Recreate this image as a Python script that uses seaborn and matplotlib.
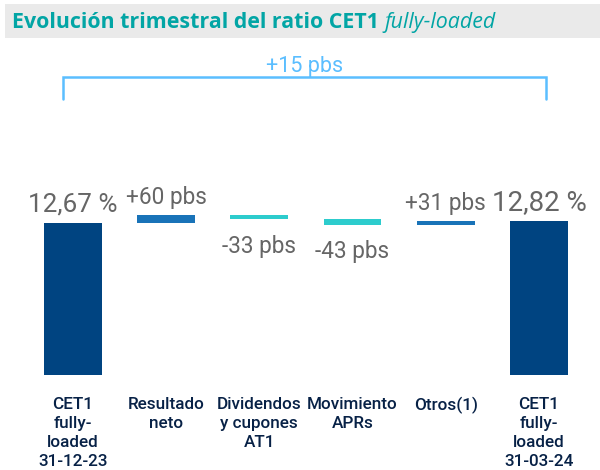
import numpy as np
import matplotlib
matplotlib.use("Agg")
import matplotlib.pyplot as plt
import seaborn as sns
from matplotlib.patches import Rectangle

# Data
categories = ["CET1\nfully-\nloaded\n31-12-23", "Resultado\nneto", "Dividendos\ny cupones\nAT1",
              "Movimiento\nAPRs", "Otros(1)", "CET1\nfully-\nloaded\n31-03-24"]
start_val = 12.67
deltas = [0.60, -0.33, -0.43, 0.31]
end_val = 12.82
value_labels = ["12,67 %", "+60 pbs", "-33 pbs", "-43 pbs", "+31 pbs", "12,82 %"]
total_label = "+15 pbs"

NAVY = "#004481"
POS = "#1973B8"
NEG = "#2DCCCD"
GREY = "#666666"
TEXT_NAVY = "#072146"
LIGHT = "#5BBEFF"
TEAL = "#02A5A5"

sns.set_theme(style="white")
plt.rcParams["font.family"] = ["Roboto", "DejaVu Sans"]

# waterfall low/high
levels = np.concatenate([[start_val], start_val + np.cumsum(deltas)])
lows = [0.0]
highs = [start_val]
colors = [NAVY]
for i, d in enumerate(deltas):
    lows.append(min(levels[i], levels[i + 1]))
    highs.append(max(levels[i], levels[i + 1]))
    colors.append(POS if d > 0 else NEG)
lows.append(0.0)
highs.append(end_val)
colors.append(NAVY)
lows = np.array(lows)
highs = np.array(highs)

fig = plt.figure(figsize=(6, 4.7), dpi=100)
ax = fig.add_axes([0.0435, 0.2021, 0.9325, 0.7128])

x_idx = list(range(len(categories)))
sns.barplot(x=x_idx, y=highs - lows, bottom=lows, color=NAVY, width=0.62,
            errorbar=None, ax=ax, linewidth=0)
for patch, c in zip(ax.patches, colors):
    patch.set_facecolor(c)

ax.set_xlim(-0.5, 5.5)
ax.set_ylim(0, 27.87)
sns.despine(ax=ax, left=True, bottom=True)
ax.set_yticks([])
ax.set_ylabel("")
ax.set_xticks(x_idx)
ax.set_xticklabels(categories, fontsize=12.3, color=TEXT_NAVY, fontweight="medium",
                   linespacing=1.33)
ax.tick_params(axis="x", length=0, pad=16)

# value labels
for i, lab in enumerate(value_labels):
    size = 16.3
    if i == 0:
        size = 18.8
    elif i == 5:
        size = 20
    if i in (2, 3):
        ax.annotate(lab, (i, lows[i]), xytext=(0, -24), textcoords="offset points",
                    ha="center", va="baseline", fontsize=size, color=GREY)
    else:
        ax.annotate(lab, (i, highs[i]), xytext=(0, 8), textcoords="offset points",
                    ha="center", va="baseline", fontsize=size, color=GREY)

# bracket for total change
ax.plot([-0.1, -0.1, 5.07, 5.07], [22.96, 24.82, 24.82, 22.96], color=LIGHT,
        lw=1.8, solid_joinstyle="miter", clip_on=False)
ax.text(2.49, 25.23, total_label, ha="center", va="baseline", fontsize=15.5, color=LIGHT)

# title band
fig.patches.append(Rectangle((0.0083, 0.9185), 0.9917, 0.073, transform=fig.transFigure,
                             facecolor="#EAEAEA", edgecolor="none", zorder=0))
t1 = fig.text(0.02, 0.9398, "Evolución trimestral del ratio CET1 ", fontsize=15.4,
              fontweight="bold", color=TEAL, va="baseline", family=["Open Sans", "DejaVu Sans"])
fig.canvas.draw()
bb = t1.get_window_extent()
fig.text(bb.x1 / fig.bbox.width, 0.9398, "fully-loaded", fontsize=15.4,
         fontstyle="italic", color=TEAL, va="baseline", family=["Open Sans", "DejaVu Sans"])

fig.savefig("out.png", dpi=100)
